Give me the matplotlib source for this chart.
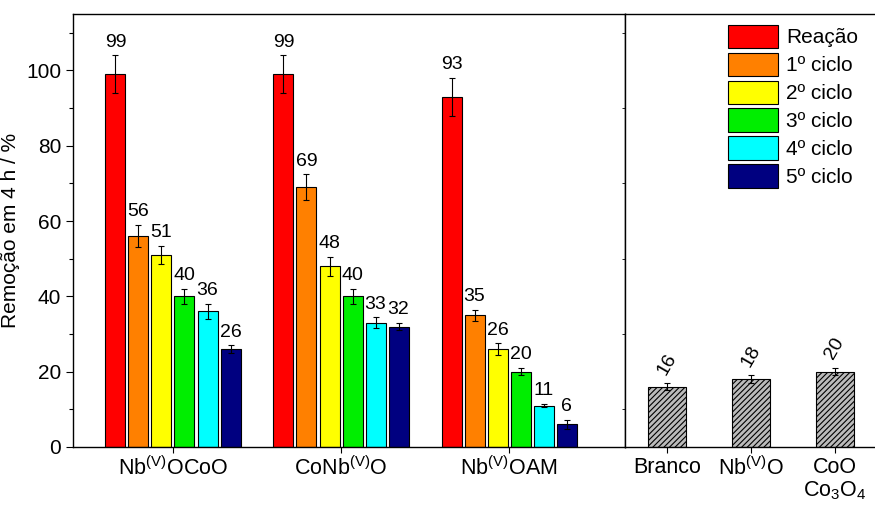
import numpy as np
import matplotlib
matplotlib.use("Agg")
import matplotlib.pyplot as plt
from matplotlib.ticker import MultipleLocator

plt.rcParams['font.family'] = ['Liberation Sans', 'DejaVu Sans']
plt.rcParams['mathtext.fontset'] = 'custom'
plt.rcParams['mathtext.rm'] = 'Liberation Sans'
plt.rcParams['mathtext.it'] = 'Liberation Sans:italic'
plt.rcParams['hatch.linewidth'] = 0.8
plt.rcParams['hatch.color'] = '#333333'

# Catalysts and reuse cycles
catalysts = [r'Nb$^{\mathregular{(V)}}$OCoO', r'CoNb$^{\mathregular{(V)}}$O', r'Nb$^{\mathregular{(V)}}$OAM']
cycles = ['Reação', '1º ciclo', '2º ciclo', '3º ciclo', '4º ciclo', '5º ciclo']
cycle_colors = ['#ff0000', '#ff8000', '#ffff00', '#00ee00', '#00ffff', '#000080']

removal = [
    [99, 56, 51, 40, 36, 26],   # Nb(V)OCoO
    [99, 69, 48, 40, 33, 32],   # CoNb(V)O
    [93, 35, 26, 20, 11, 6],    # Nb(V)OAM
]
removal_err = [
    [5.0, 3.0, 2.5, 2.0, 2.0, 1.0],
    [5.0, 3.5, 2.5, 2.0, 1.5, 1.0],
    [5.0, 1.5, 1.5, 1.0, 0.5, 1.2],
]

# Control experiments
controls = ['Branco', r'Nb$^{\mathregular{(V)}}$O', 'CoO\nCo$_3$O$_4$']
control_removal = [16, 18, 20]
control_err = [0.9, 1.0, 1.0]

W, H = 875, 505
fig = plt.figure(figsize=(W / 100, H / 100), dpi=100)

y0, y1 = 447, 14
ax = fig.add_axes([73 / W, (H - y0) / H, (625 - 73) / W, (y0 - y1) / H])
ax2 = fig.add_axes([625 / W, (H - y0) / H, 252 / W, (y0 - y1) / H], sharey=ax)

pitch = 0.137
width = 0.119
centers = np.arange(1, len(catalysts) + 1)
for j, (name, color) in enumerate(zip(cycles, cycle_colors)):
    xs = centers + (j - 2.5) * pitch
    vals = [removal[i][j] for i in range(len(catalysts))]
    errs = [removal_err[i][j] for i in range(len(catalysts))]
    ax.bar(xs, vals, width=width, color=color, edgecolor='black', linewidth=0.8, label=name, zorder=2)
    ax.errorbar(xs, vals, yerr=errs, fmt='none', ecolor='black', elinewidth=0.8,
                capsize=2.5, capthick=0.8, zorder=3)
    for x, v, e in zip(xs, vals, errs):
        ax.text(x, v + e + 1.2, f'{v}', ha='center', va='bottom', fontsize=14)

ax.set_xlim(0.405, 3.69)
ax.set_ylim(0, 115)
ax.set_xticks(centers)
ax.set_xticklabels(catalysts, fontsize=15.5)
ax.yaxis.set_major_locator(MultipleLocator(20))
ax.yaxis.set_minor_locator(MultipleLocator(10))
ax.tick_params(axis='y', which='major', labelsize=15, length=5, direction='out', width=0.8)
ax.tick_params(axis='y', which='minor', length=3, direction='out', width=0.8)
ax.tick_params(axis='x', which='major', length=4, direction='out', width=0.8, pad=3)
ax.set_ylabel('Remoção em 4 h / %', fontsize=15)
ax.yaxis.set_label_coords(-0.096, 0.5)
for s in ax.spines.values():
    s.set_linewidth(1.0)

cx = np.arange(1, len(controls) + 1)
ax2.bar(cx, control_removal, width=0.45, facecolor='#bbbbbb', edgecolor='black', hatch='//////',
        linewidth=0.8, zorder=2)
ax2.errorbar(cx, control_removal, yerr=control_err, fmt='none', ecolor='black', elinewidth=0.8,
             capsize=2.5, capthick=0.8, zorder=3)
for x, v, e in zip(cx, control_removal, control_err):
    ax2.text(x, v + e + 1.5, f'{v}', ha='center', va='bottom', fontsize=14, rotation=60)
ax2.set_xlim(0.5, 3.5)
ax2.set_xticks(cx)
ax2.set_xticklabels(controls, fontsize=15.5, va='top', linespacing=1.1)
ax2.tick_params(axis='x', length=4, direction='out', width=0.8, pad=3)
ax2.tick_params(axis='y', left=False, labelleft=False)
for s in ax2.spines.values():
    s.set_linewidth(1.0)

handles, labels = ax.get_legend_handles_labels()
fig.legend(handles, labels, loc='upper left', bbox_to_anchor=(713 / W, 1 - 10 / H),
           frameon=False, fontsize=15, handlelength=2.4, handleheight=1.35,
           handletextpad=0.4, labelspacing=0.22, borderpad=0.2)

fig.savefig('out.png', dpi=100)
